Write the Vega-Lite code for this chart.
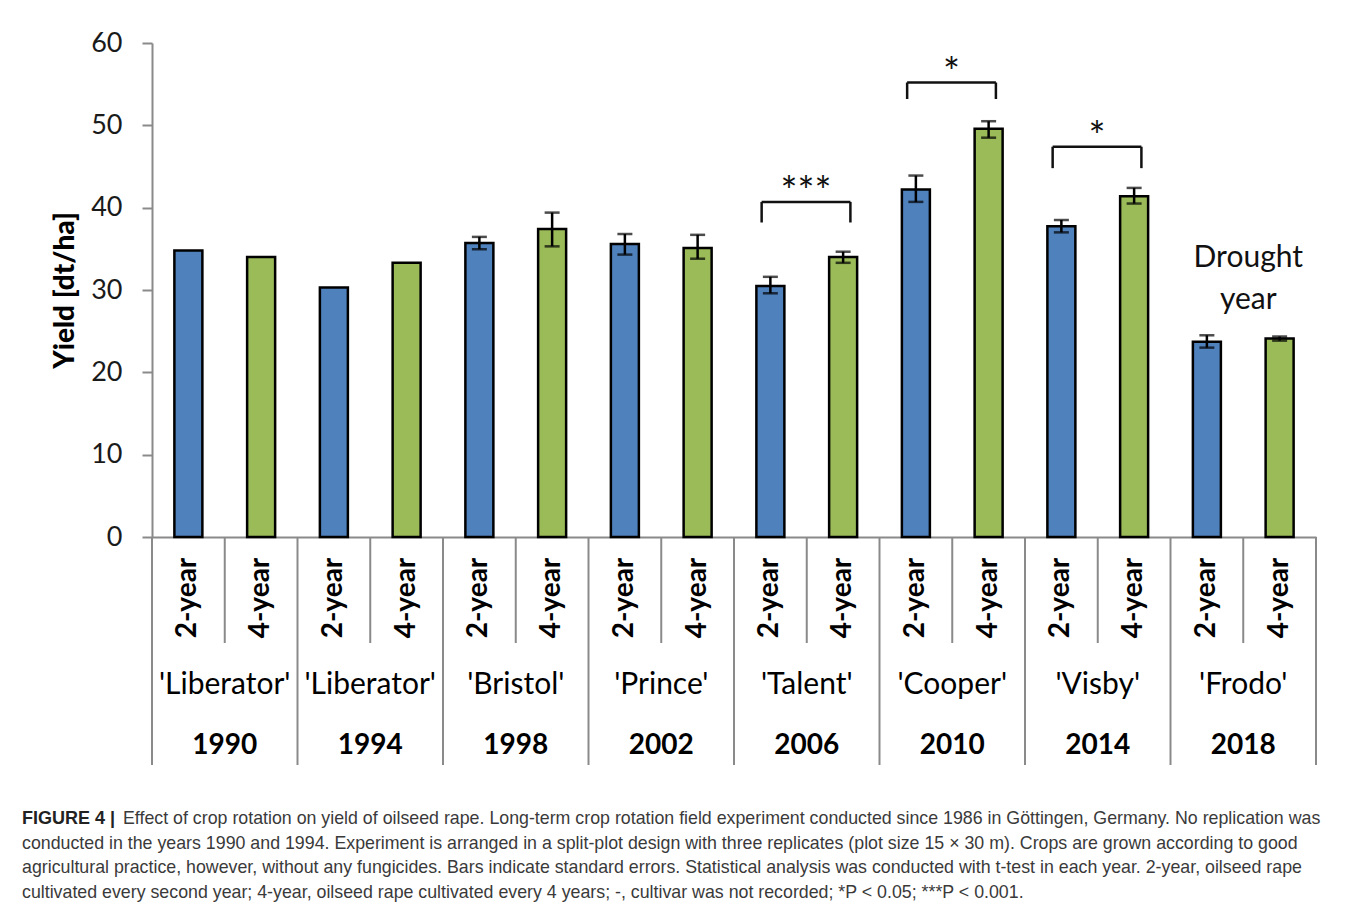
{
  "$schema": "https://vega.github.io/schema/vega-lite/v6.json",
  "padding": {"left": 22, "top": 29, "right": 0, "bottom": 0},
  "background": "white",
  "spacing": 0,
  "bounds": "flush",
  "config": {"view": {"stroke": null}, "font": "Lato"},
  "datasets": {
    "bars": [
      {"key": "1990|2-year", "year": "1990", "rot": "2-year", "yield": 34.8, "lo": null, "hi": null},
      {"key": "1990|4-year", "year": "1990", "rot": "4-year", "yield": 34.0, "lo": null, "hi": null},
      {"key": "1994|2-year", "year": "1994", "rot": "2-year", "yield": 30.3, "lo": null, "hi": null},
      {"key": "1994|4-year", "year": "1994", "rot": "4-year", "yield": 33.3, "lo": null, "hi": null},
      {"key": "1998|2-year", "year": "1998", "rot": "2-year", "yield": 35.7, "lo": 34.95, "hi": 36.45},
      {"key": "1998|4-year", "year": "1998", "rot": "4-year", "yield": 37.4, "lo": 35.3, "hi": 39.4},
      {"key": "2002|2-year", "year": "2002", "rot": "2-year", "yield": 35.6, "lo": 34.3, "hi": 36.8},
      {"key": "2002|4-year", "year": "2002", "rot": "4-year", "yield": 35.1, "lo": 33.8, "hi": 36.7},
      {"key": "2006|2-year", "year": "2006", "rot": "2-year", "yield": 30.5, "lo": 29.6, "hi": 31.6},
      {"key": "2006|4-year", "year": "2006", "rot": "4-year", "yield": 34.0, "lo": 33.3, "hi": 34.65},
      {"key": "2010|2-year", "year": "2010", "rot": "2-year", "yield": 42.2, "lo": 40.7, "hi": 43.9},
      {"key": "2010|4-year", "year": "2010", "rot": "4-year", "yield": 49.6, "lo": 48.5, "hi": 50.5},
      {"key": "2014|2-year", "year": "2014", "rot": "2-year", "yield": 37.75, "lo": 37.0, "hi": 38.5},
      {"key": "2014|4-year", "year": "2014", "rot": "4-year", "yield": 41.4, "lo": 40.5, "hi": 42.4},
      {"key": "2018|2-year", "year": "2018", "rot": "2-year", "yield": 23.7, "lo": 23.0, "hi": 24.5},
      {"key": "2018|4-year", "year": "2018", "rot": "4-year", "yield": 24.1, "lo": 23.85, "hi": 24.35}
    ],
    "groups": [
      {"year": "1990", "cultivar": "'Liberator'", "k2": "1990|2-year", "k4": "1990|4-year"},
      {"year": "1994", "cultivar": "'Liberator'", "k2": "1994|2-year", "k4": "1994|4-year"},
      {"year": "1998", "cultivar": "'Bristol'", "k2": "1998|2-year", "k4": "1998|4-year"},
      {"year": "2002", "cultivar": "'Prince'", "k2": "2002|2-year", "k4": "2002|4-year"},
      {"year": "2006", "cultivar": "'Talent'", "k2": "2006|2-year", "k4": "2006|4-year"},
      {"year": "2010", "cultivar": "'Cooper'", "k2": "2010|2-year", "k4": "2010|4-year"},
      {"year": "2014", "cultivar": "'Visby'", "k2": "2014|2-year", "k4": "2014|4-year"},
      {"year": "2018", "cultivar": "'Frodo'", "k2": "2018|2-year", "k4": "2018|4-year"}
    ],
    "sig": [
      {"left": "2006|2-year", "right": "2006|4-year", "top": 40.7, "bottom": 38.2, "stars": "***"},
      {"left": "2010|2-year", "right": "2010|4-year", "top": 55.2, "bottom": 53.2, "stars": "*"},
      {"left": "2014|2-year", "right": "2014|4-year", "top": 47.4, "bottom": 44.8, "stars": "*"}
    ],
    "notes": [
      {"key": "2018|4-year", "text": "Drought\nyear", "y": 32.8}
    ],
    "caption": [
      {"line": 1, "part": "head", "text": "FIGURE 4 |"},
      {"line": 1, "part": "first", "text": "Effect of crop rotation on yield of oilseed rape. Long-term crop rotation field experiment conducted since 1986 in Göttingen, Germany. No replication was"},
      {"line": 2, "part": "body", "text": "conducted in the years 1990 and 1994. Experiment is arranged in a split-plot design with three replicates (plot size 15 × 30 m). Crops are grown according to good"},
      {"line": 3, "part": "body", "text": "agricultural practice, however, without any fungicides. Bars indicate standard errors. Statistical analysis was conducted with t-test in each year. 2-year, oilseed rape"},
      {"line": 4, "part": "body", "text": "cultivated every second year; 4-year, oilseed rape cultivated every 4 years; -, cultivar was not recorded; *P < 0.05; ***P < 0.001."}
    ]
  },
  "vconcat": [
    {
      "width": 1164,
      "height": 494,
      "layer": [
        {
          "data": {"name": "bars"},
          "mark": {"type": "bar", "width": 28, "stroke": "black", "strokeWidth": 2.5},
          "encoding": {
            "x": {"field": "key", "type": "nominal", "title": null,
              "scale": {"type": "band", "paddingInner": 0, "paddingOuter": 0, "domain": ["1990|2-year","1990|4-year","1994|2-year","1994|4-year","1998|2-year","1998|4-year","2002|2-year","2002|4-year","2006|2-year","2006|4-year","2010|2-year","2010|4-year","2014|2-year","2014|4-year","2018|2-year","2018|4-year"]},
              "axis": {"labels": false, "ticks": false, "title": null, "domainColor": "#8a8a8a", "domainWidth": 2}},
            "y": {"field": "yield", "type": "quantitative", "title": "Yield [dt/ha]",
              "scale": {"domain": [0, 60], "nice": false},
              "axis": {"values": [0, 10, 20, 30, 40, 50, 60], "grid": false, "tickSize": 10, "tickWidth": 2, "tickColor": "#8a8a8a", "domainColor": "#8a8a8a", "domainWidth": 2, "labelFontSize": 27, "labelColor": "#1a1a1a", "labelPadding": 20, "labelFont": "Lato", "titleFont": "Lato", "titleFontSize": 28, "titleFontWeight": 900, "titleColor": "#000", "titlePadding": 11}},
            "color": {"field": "rot", "type": "nominal", "scale": {"domain": ["2-year", "4-year"], "range": ["#4F81BD", "#9BBB59"]}, "legend": null}
          }
        },
        {
          "data": {"name": "bars"},
          "transform": [{"filter": "isValid(datum.lo)"}],
          "mark": {"type": "rule", "color": "black", "strokeWidth": 2.5},
          "encoding": {
            "x": {"field": "key", "type": "nominal", "title": null, "bandPosition": 0.5},
            "y": {"field": "lo", "type": "quantitative", "title": "Yield [dt/ha]"},
            "y2": {"field": "hi"}
          }
        },
        {
          "data": {"name": "bars"},
          "transform": [{"filter": "isValid(datum.lo)"}],
          "mark": {"type": "tick", "color": "black", "thickness": 2.5, "size": 15},
          "encoding": {
            "x": {"field": "key", "type": "nominal", "title": null},
            "y": {"field": "lo", "type": "quantitative", "title": "Yield [dt/ha]"}
          }
        },
        {
          "data": {"name": "bars"},
          "transform": [{"filter": "isValid(datum.hi)"}],
          "mark": {"type": "tick", "color": "black", "thickness": 2.5, "size": 15},
          "encoding": {
            "x": {"field": "key", "type": "nominal", "title": null},
            "y": {"field": "hi", "type": "quantitative", "title": "Yield [dt/ha]"}
          }
        },
        {
          "data": {"name": "sig"},
          "mark": {"type": "rule", "color": "#111", "strokeWidth": 2.5},
          "encoding": {
            "x": {"field": "left", "type": "nominal", "title": null, "bandPosition": 0.38},
            "x2": {"field": "right", "bandPosition": 0.6},
            "y": {"field": "top", "type": "quantitative", "title": "Yield [dt/ha]"}
          }
        },
        {
          "data": {"name": "sig"},
          "mark": {"type": "rule", "color": "#111", "strokeWidth": 2.5},
          "encoding": {
            "x": {"field": "left", "type": "nominal", "title": null, "bandPosition": 0.38},
            "y": {"field": "top", "type": "quantitative", "title": "Yield [dt/ha]"},
            "y2": {"field": "bottom"}
          }
        },
        {
          "data": {"name": "sig"},
          "mark": {"type": "rule", "color": "#111", "strokeWidth": 2.5},
          "encoding": {
            "x": {"field": "right", "type": "nominal", "title": null, "bandPosition": 0.6},
            "y": {"field": "top", "type": "quantitative", "title": "Yield [dt/ha]"},
            "y2": {"field": "bottom"}
          }
        },
        {
          "data": {"name": "sig"},
          "mark": {"type": "text", "fontSize": 40, "color": "#111", "align": "center", "baseline": "alphabetic", "dy": 4},
          "encoding": {
            "x": {"field": "left", "type": "nominal", "title": null, "bandPosition": 0.99},
            "y": {"field": "top", "type": "quantitative", "title": "Yield [dt/ha]"},
            "text": {"field": "stars"}
          }
        },
        {
          "data": {"name": "notes"},
          "mark": {"type": "text", "fontSize": 30, "color": "#111", "align": "center", "baseline": "alphabetic", "lineBreak": "\n", "lineHeight": 42},
          "encoding": {
            "x": {"field": "key", "type": "nominal", "title": null, "bandPosition": 0.07},
            "y": {"field": "y", "type": "quantitative", "title": "Yield [dt/ha]"},
            "text": {"field": "text"}
          }
        }
      ]
    },
    {
      "width": 1164,
      "height": 106,
      "layer": [
        {
          "data": {"name": "bars"},
          "mark": {"type": "rule", "color": "#8a8a8a", "strokeWidth": 2},
          "encoding": {
            "x": {"field": "key", "type": "nominal", "bandPosition": 0, "axis": null,
              "scale": {"type": "band", "paddingInner": 0, "paddingOuter": 0, "domain": ["1990|2-year","1990|4-year","1994|2-year","1994|4-year","1998|2-year","1998|4-year","2002|2-year","2002|4-year","2006|2-year","2006|4-year","2010|2-year","2010|4-year","2014|2-year","2014|4-year","2018|2-year","2018|4-year"]}}
          }
        },
        {
          "data": {"name": "bars"},
          "transform": [{"filter": "datum.key === '2018|4-year'"}],
          "mark": {"type": "rule", "color": "#8a8a8a", "strokeWidth": 2},
          "encoding": {
            "x": {"field": "key", "type": "nominal", "bandPosition": 1, "axis": null}
          }
        },
        {
          "data": {"name": "bars"},
          "mark": {"type": "text", "angle": 270, "fontSize": 28, "fontWeight": "bold", "color": "#000", "align": "center", "baseline": "middle", "dx": -8},
          "encoding": {
            "x": {"field": "key", "type": "nominal", "bandPosition": 0.5, "axis": null},
            "text": {"field": "rot"}
          }
        }
      ]
    },
    {
      "width": 1164,
      "height": 84,
      "layer": [
        {
          "data": {"name": "groups"},
          "mark": {"type": "rule", "color": "#8a8a8a", "strokeWidth": 2},
          "encoding": {
            "x": {"field": "k2", "type": "nominal", "bandPosition": 0, "axis": null,
              "scale": {"type": "band", "paddingInner": 0, "paddingOuter": 0, "domain": ["1990|2-year","1990|4-year","1994|2-year","1994|4-year","1998|2-year","1998|4-year","2002|2-year","2002|4-year","2006|2-year","2006|4-year","2010|2-year","2010|4-year","2014|2-year","2014|4-year","2018|2-year","2018|4-year"]}}
          }
        },
        {
          "data": {"name": "groups"},
          "transform": [{"filter": "datum.year === '2018'"}],
          "mark": {"type": "rule", "color": "#8a8a8a", "strokeWidth": 2},
          "encoding": {
            "x": {"field": "k4", "type": "nominal", "bandPosition": 1, "axis": null}
          }
        },
        {
          "data": {"name": "groups"},
          "mark": {"type": "text", "fontSize": 30, "color": "#000", "align": "center", "baseline": "middle"},
          "encoding": {
            "x": {"field": "k4", "type": "nominal", "bandPosition": 0, "axis": null},
            "text": {"field": "cultivar"}
          }
        }
      ]
    },
    {
      "width": 1164,
      "height": 38,
      "layer": [
        {
          "data": {"name": "groups"},
          "mark": {"type": "rule", "color": "#8a8a8a", "strokeWidth": 2},
          "encoding": {
            "x": {"field": "k2", "type": "nominal", "bandPosition": 0, "axis": null,
              "scale": {"type": "band", "paddingInner": 0, "paddingOuter": 0, "domain": ["1990|2-year","1990|4-year","1994|2-year","1994|4-year","1998|2-year","1998|4-year","2002|2-year","2002|4-year","2006|2-year","2006|4-year","2010|2-year","2010|4-year","2014|2-year","2014|4-year","2018|2-year","2018|4-year"]}}
          }
        },
        {
          "data": {"name": "groups"},
          "transform": [{"filter": "datum.year === '2018'"}],
          "mark": {"type": "rule", "color": "#8a8a8a", "strokeWidth": 2},
          "encoding": {
            "x": {"field": "k4", "type": "nominal", "bandPosition": 1, "axis": null}
          }
        },
        {
          "data": {"name": "groups"},
          "mark": {"type": "text", "fontSize": 28, "fontWeight": "bold", "color": "#000", "align": "center", "baseline": "middle"},
          "encoding": {
            "x": {"field": "k4", "type": "nominal", "bandPosition": 0, "axis": null},
            "text": {"field": "year"}
          }
        }
      ]
    },
    {
      "width": 1164,
      "height": 140,
      "data": {"name": "caption"},
      "encoding": {
        "y": {"field": "line", "type": "ordinal", "axis": null, "scale": {"type": "band", "paddingInner": 0, "paddingOuter": 0.85, "align": 1}}
      },
      "layer": [
        {
          "transform": [{"filter": "datum.part === 'head'"}],
          "mark": {"type": "text", "font": "Liberation Sans", "fontSize": 18, "fontWeight": "bold", "color": "#222", "align": "left", "baseline": "middle", "x": 0, "dx": -130},
          "encoding": {"text": {"field": "text"}}
        },
        {
          "transform": [{"filter": "datum.part === 'first'"}],
          "mark": {"type": "text", "font": "Liberation Sans", "fontSize": 17.8, "color": "#3a3a3a", "align": "left", "baseline": "middle", "x": 0, "dx": -29},
          "encoding": {"text": {"field": "text"}}
        },
        {
          "transform": [{"filter": "datum.part === 'body'"}],
          "mark": {"type": "text", "font": "Liberation Sans", "fontSize": 17.8, "color": "#3a3a3a", "align": "left", "baseline": "middle", "x": 0, "dx": -130},
          "encoding": {"text": {"field": "text"}}
        }
      ]
    }
  ]
}
